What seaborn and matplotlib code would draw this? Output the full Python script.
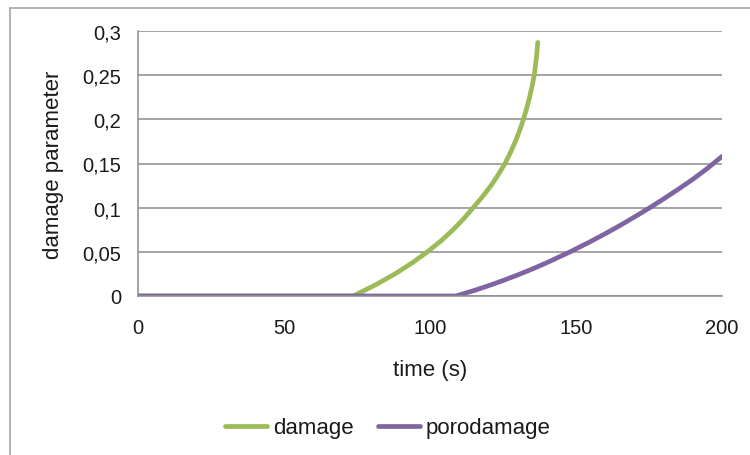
import numpy as np
import pandas as pd
import matplotlib
matplotlib.use("Agg")
import matplotlib.pyplot as plt
import seaborn as sns
from matplotlib.lines import Line2D
from matplotlib.ticker import FuncFormatter

# Values
damage_time = [0, 73.7, 81.3, 88.0, 93.9, 99.1, 103.8, 107.9, 111.55, 114.8, 118.0, 120.9, 123.4, 125.7,
               127.55, 129.25, 130.7, 132.0, 133.1, 134.1, 134.95, 135.7, 136.2, 136.6, 136.9]
damage_value = [0, 0, 0.0125, 0.025, 0.0375, 0.05, 0.0625, 0.075, 0.0875, 0.1, 0.1125, 0.125, 0.1375, 0.15,
                0.1625, 0.175, 0.1875, 0.2, 0.2125, 0.225, 0.2375, 0.25, 0.2625, 0.275, 0.287]
poro_time = [0, 108.9, 115, 120, 125, 130, 135, 140, 148, 155, 160, 165, 170, 175.3, 180, 185, 190, 195, 200]
poro_value = [0, 0, 0.0061, 0.0116, 0.0175, 0.0238, 0.0305, 0.0377, 0.05, 0.0617, 0.0705, 0.0797, 0.0894,
              0.1, 0.1099, 0.1208, 0.1321, 0.1445, 0.158]

df = pd.concat([
    pd.DataFrame({"time": damage_time, "value": damage_value, "series": "damage"}),
    pd.DataFrame({"time": poro_time, "value": poro_value, "series": "porodamage"}),
])

colors = {"damage": "#9bbb59", "porodamage": "#8064a2"}
text_color = "#1a1a1a"

sns.set_style("white")
plt.rcParams['font.family'] = ['Liberation Sans', 'DejaVu Sans']

fig = plt.figure(figsize=(7.5, 4.56), dpi=100)
ax = fig.add_axes([138 / 750, 1 - 297 / 456, (722 - 138) / 750, (297 - 32) / 456])

sns.lineplot(data=df, x="time", y="value", hue="series", palette=colors,
             linewidth=3.4, ax=ax, legend=False, sort=False,
             solid_capstyle="round", solid_joinstyle="round")

ax.set_xlim(0, 200)
ax.set_ylim(0, 0.3)
ax.set_xticks([0, 50, 100, 150, 200])
ax.set_yticks(np.arange(0, 0.31, 0.05))
ax.xaxis.set_major_formatter(FuncFormatter(lambda v, p: f"{v:g}"))
ax.yaxis.set_major_formatter(FuncFormatter(lambda v, p: f"{round(v, 2):g}".replace(".", ",")))
ax.yaxis.grid(True, color="#8c8c8c", linewidth=1.1)
ax.set_axisbelow(True)
for s in ["top", "right"]:
    ax.spines[s].set_visible(False)
for s in ["left", "bottom"]:
    ax.spines[s].set_color("#8c8c8c")
    ax.spines[s].set_linewidth(1.1)
ax.tick_params(axis="both", direction="out", length=5, width=1.1, color="#8c8c8c",
               labelsize=14.5, labelcolor=text_color)
ax.tick_params(axis="y", pad=7)
ax.tick_params(axis="x", pad=11)
ax.set_xlabel("time (s)", fontsize=16, color=text_color)
ax.set_ylabel("damage parameter", fontsize=16, color=text_color)
ax.xaxis.set_label_coords(0.5, (297 - 360) / 265)
ax.yaxis.set_label_coords((64 - 138) / 584, 0.5)

handles = [Line2D([], [], color=colors["damage"], linewidth=3.4, solid_capstyle="round"),
           Line2D([], [], color=colors["porodamage"], linewidth=3.4, solid_capstyle="round")]
fig.legend(handles, ["damage", "porodamage"], loc="center", bbox_to_anchor=(388 / 750, 1 - 429 / 456),
           ncol=2, frameon=False, fontsize=16, handlelength=1.9, handletextpad=0.25,
           columnspacing=1.1, labelcolor=text_color)

# outer chart border (Excel style)
fig.add_artist(Line2D([10 / 750, 1], [1 - 9 / 456, 1 - 9 / 456], color="#a6a6a6", linewidth=1.2))
fig.add_artist(Line2D([10 / 750, 10 / 750], [0, 1 - 9 / 456], color="#a6a6a6", linewidth=1.2))

fig.savefig("out.png", dpi=100)
